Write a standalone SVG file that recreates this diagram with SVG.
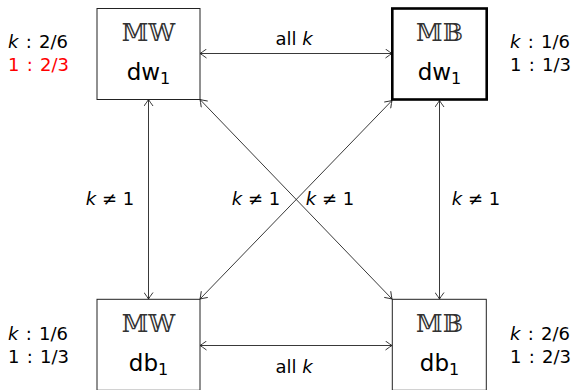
<svg xmlns="http://www.w3.org/2000/svg" width="579" height="390" viewBox="0 0 579 390">
<defs>
<marker id="ah" viewBox="-8 -5 9 10" refX="0" refY="0" markerWidth="9" markerHeight="10" markerUnits="userSpaceOnUse" orient="auto-start-reverse">
<path d="M -6.5 -4.5 Q -2 -1.2 0 0 Q -2 1.2 -6.5 4.5" fill="none" stroke="#222" stroke-width="0.9"/>
</marker>
</defs>
<style>
.box{fill:#fff;stroke:#222;stroke-width:1}
.thick{stroke:#000;stroke-width:2.6}
.bb{font-family:"DejaVu Serif","DejaVu Sans",serif;font-size:24px;fill:#333;text-anchor:middle}
.nm{font-family:"DejaVu Sans","Liberation Sans",sans-serif;font-size:23px;fill:#000;text-anchor:middle}
.sub{font-size:16px}
.lbl{font-family:"DejaVu Sans","Liberation Sans",sans-serif;font-size:18px;fill:#000;word-spacing:1.5px}
.red{fill:#ff0000}
.it{font-style:italic}
.conn{fill:none;stroke:#222;stroke-width:0.9;marker-start:url(#ah);marker-end:url(#ah)}
.el{font-family:"DejaVu Sans","Liberation Sans",sans-serif;font-size:18px;fill:#000;text-anchor:middle}
</style>
<g id="connectors">
<line class="conn" x1="200" y1="53.5" x2="392" y2="53.5"/>
<line class="conn" x1="200" y1="345.5" x2="392" y2="345.5"/>
<line class="conn" x1="148.5" y1="99.5" x2="148.5" y2="299"/>
<line class="conn" x1="439.5" y1="100.5" x2="439.5" y2="299"/>
<line class="conn" x1="200" y1="99.5" x2="392" y2="299"/>
<line class="conn" x1="392" y1="100.5" x2="200" y2="299"/>
<text class="el" x="294" y="45">all <tspan class="it">k</tspan></text>
<text class="el" x="294" y="373">all <tspan class="it">k</tspan></text>
<text class="el" x="110" y="205"><tspan class="it">k</tspan> ≠ 1</text>
<text class="el" x="256" y="205"><tspan class="it">k</tspan> ≠ 1</text>
<text class="el" x="330" y="205"><tspan class="it">k</tspan> ≠ 1</text>
<text class="el" x="476" y="205"><tspan class="it">k</tspan> ≠ 1</text>
</g>
<g id="MW_dw1">
<rect class="box" x="97" y="8.5" width="103" height="91"/>
<text class="bb" x="148.5" y="41">𝕄𝕎</text>
<text class="nm" x="148.5" y="80">dw<tspan class="sub" dy="4">1</tspan></text>
<text class="lbl" x="8" y="48"><tspan class="it">k</tspan> : 2/6</text>
<text class="lbl red" x="8" y="71">1 : 2/3</text>
</g>
<g id="MB_dw1">
<rect class="box thick" x="392.3" y="8.5" width="94.4" height="91"/>
<text class="bb" x="439.5" y="41">𝕄𝔹</text>
<text class="nm" x="439.5" y="80">dw<tspan class="sub" dy="4">1</tspan></text>
<text class="lbl" x="510" y="48"><tspan class="it">k</tspan> : 1/6</text>
<text class="lbl" x="510" y="71">1 : 1/3</text>
</g>
<g id="MW_db1">
<rect class="box" x="97" y="299.3" width="103" height="91"/>
<text class="bb" x="148.5" y="332">𝕄𝕎</text>
<text class="nm" x="148.5" y="371">db<tspan class="sub" dy="4">1</tspan></text>
<text class="lbl" x="8" y="340"><tspan class="it">k</tspan> : 1/6</text>
<text class="lbl" x="8" y="363">1 : 1/3</text>
</g>
<g id="MB_db1">
<rect class="box" x="392.3" y="299.3" width="94" height="91"/>
<text class="bb" x="439.5" y="332">𝕄𝔹</text>
<text class="nm" x="439.5" y="371">db<tspan class="sub" dy="4">1</tspan></text>
<text class="lbl" x="510" y="340"><tspan class="it">k</tspan> : 2/6</text>
<text class="lbl" x="510" y="363">1 : 2/3</text>
</g>
</svg>
